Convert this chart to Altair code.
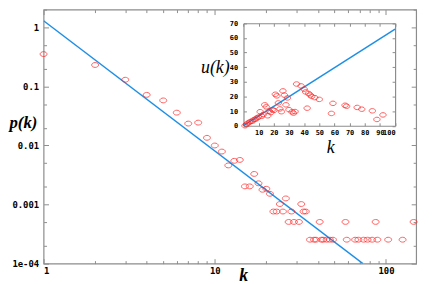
import altair as alt
import pandas as pd

# ---------------- data ----------------
main_k = [1, 2, 3, 4, 5, 6, 7, 8, 9, 10, 11, 12, 13, 14, 15, 16, 17, 18, 19, 20,
          21, 22, 23, 24, 25, 26, 27, 28, 29, 31, 32, 33, 34,
          36, 38, 39, 41, 42, 43, 45, 47, 49, 58, 59, 66, 69, 74, 78, 83, 87, 89, 103, 125, 145]
main_p = [0.353, 0.231, 0.130, 0.072, 0.058, 0.036, 0.0235, 0.0244, 0.0135, 0.0100,
          0.0079, 0.0046, 0.0055, 0.0057, 0.00203, 0.00203, 0.0033, 0.00229, 0.00178, 0.00185,
          0.00152, 0.000762, 0.000762, 0.00102, 0.000762, 0.00127, 0.000508, 0.000762, 0.000508,
          0.000508, 0.00102, 0.000762, 0.000762,
          0.000254, 0.000254, 0.000254, 0.000508, 0.000254, 0.000254, 0.000254, 0.000254, 0.000254,
          0.000508, 0.000254, 0.000254, 0.000254, 0.000254, 0.000254, 0.000254, 0.000508, 0.000254,
          0.000254, 0.000254, 0.000508]
fit_k = [1, 73.3]
fit_p = [1.295, 0.0001]

inset_k = [1, 2, 3, 4, 5, 6, 7, 8, 9, 10, 11, 12, 13, 14, 15, 16, 17, 18, 19, 20,
           21, 22, 23, 24, 25, 26, 27, 28, 29, 30, 32, 33, 34, 35, 38, 40, 41, 42, 43, 44,
           45, 47, 50, 58, 59, 67, 68, 75, 78, 85, 88, 92]
inset_u = [0, 1, 1.8, 2.5, 3, 3.2, 4.3, 4.5, 5.4, 6, 9.6, 6.5, 7.7, 14.3, 12.9, 6.8, 10, 9, 11, 10.5,
           21.5, 20.4, 15.6, 11.5, 9.6, 23.8, 20.9, 14.3, 19, 11, 9.5, 8.6, 9.7, 28.5, 27.2, 25, 23.1, 12, 22, 21,
           20, 19.2, 18, 8.4, 15.3, 14, 13.3, 12.5, 11.3, 10.2, 4.3, 7.4]
inset_fit_k = [0, 100]
inset_fit_u = [0, 66]

x_major = [1, 10, 100]
x_ticks = [1, 2, 3, 4, 5, 6, 7, 8, 9, 10, 20, 30, 40, 50, 60, 70, 80, 90, 100]
y_major = [0.0001, 0.001, 0.01, 0.1, 1]
y_ticks = [0.0001, 0.0002, 0.0005, 0.001, 0.002, 0.005, 0.01, 0.02, 0.05, 0.1, 0.2, 0.5, 1, 2]
inset_x_labels = [10, 20, 30, 40, 50, 60, 70, 80, 90, 100]
inset_x_ticks = [0, 10, 20, 30, 40, 50, 60, 70, 80, 90, 100]
inset_y_labels = [0, 10, 20, 30, 40, 50, 60, 70]

main_df = pd.DataFrame({"k": main_k, "p": main_p})
fit_df = pd.DataFrame({"k": fit_k, "p": fit_p})
inset_df = pd.DataFrame({"k": inset_k, "u": inset_u})
inset_fit_df = pd.DataFrame({"k": inset_fit_k, "u": inset_fit_u})

# ---------------- layout / style ----------------
W, H = 377, 257
GRAY = "#8c8c8c"
RED = "#ff1a1a"
BLUE = "#1e8fe6"
LABEL_FONT = "DejaVu Sans Mono"
TITLE_FONT = "Liberation Serif"
ELL = "M-1,0 A1,0.7 0 1,0 1,0 A1,0.7 0 1,0 -1,0 Z"

IX0, IX1 = 202.3, 355.7     # inset x range inside plot
IY0, IY1 = 117.5, 13.8      # inset y range inside plot

XS = alt.Scale(type="log", domain=[1, 150], nice=False)
YS = alt.Scale(type="log", domain=[0.0001, 2], nice=False)
IXS = alt.Scale(domain=[0, 100], range=[IX0, IX1], nice=False, zero=False)
IYS = alt.Scale(domain=[0, 70], range=[IY0, IY1], nice=False, zero=False)

x_tick_size = {"condition": {"test": "indexof([1,10,100], datum.value) >= 0", "value": 5}, "value": 3}
y_tick_size = {"condition": {"test": "indexof([0.0001,0.001,0.01,0.1,1], datum.value) >= 0", "value": 5}, "value": 3}


def tick_axis(orient, offset, values, size):
    return alt.Axis(orient=orient, offset=offset, values=values, labels=False, domain=False,
                    grid=False, ticks=True, tickColor=GRAY, tickWidth=1, tickSize=size, title="")


def tick_axis_dom(orient, offset, values, size):
    return alt.Axis(orient=orient, offset=offset, values=values, labels=False, domain=True,
                    domainColor=GRAY, domainWidth=1.2,
                    grid=False, ticks=True, tickColor=GRAY, tickWidth=1, tickSize=size, title="")


# main points with labelled axes
main_pts = alt.Chart(main_df).mark_point(shape=ELL, size=49, filled=False, color=RED, strokeWidth=1).encode(
    x=alt.X("k:Q", scale=XS, axis=alt.Axis(
        orient="bottom", values=x_major, ticks=False, domain=False, grid=False,
        labelPadding=3, labelFont=LABEL_FONT, labelFontSize=9, labelFontWeight="bold", labelColor="#000000",
        title="k", titleFont=TITLE_FONT, titleFontSize=18, titleFontStyle="italic", titleFontWeight="bold",
        titleX=202, titleY=17, titleBaseline="alphabetic", titleAlign="center", titleColor="#000000")),
    y=alt.Y("p:Q", scale=YS, axis=alt.Axis(
        orient="left", values=y_major, ticks=False, domain=False, grid=False,
        labelExpr="datum.value == 0.0001 ? '1e-04' : toString(datum.value)",
        labelPadding=5, labelFont=LABEL_FONT, labelFontSize=9, labelFontWeight="bold", labelColor="#000000",
        title="p(k)", titleFont=TITLE_FONT, titleFontSize=17, titleFontStyle="italic", titleFontWeight="bold",
        titleAngle=0, titleX=-35, titleY=114, titleAlign="left", titleBaseline="middle", titleColor="#000000")),
)

main_fit = alt.Chart(fit_df).mark_line(color=BLUE, strokeWidth=1.5, clip=True).encode(
    x=alt.X("k:Q", scale=XS, axis=None),
    y=alt.Y("p:Q", scale=YS, axis=None),
)

# inward ticks on bottom / left
ticks_a = alt.Chart(main_df).mark_point(opacity=0).encode(
    x=alt.X("k:Q", scale=XS, axis=tick_axis("top", -H, x_ticks, x_tick_size)),
    y=alt.Y("p:Q", scale=YS, axis=tick_axis("right", -W, y_ticks, y_tick_size)),
)
# inward ticks on top / right
ticks_b = alt.Chart(main_df).mark_point(opacity=0).encode(
    x=alt.X("k:Q", scale=XS, axis=tick_axis("bottom", -H, x_ticks, x_tick_size)),
    y=alt.Y("p:Q", scale=YS, axis=tick_axis("left", -W, y_ticks, y_tick_size)),
)

# inset
inset_pts = alt.Chart(inset_df).mark_point(shape=ELL, size=42, filled=False, color=RED, strokeWidth=1).encode(
    x=alt.X("k:Q", scale=IXS, axis=alt.Axis(
        orient="bottom", offset=IY0 - H, values=inset_x_labels, ticks=False, grid=False,
        domain=True, domainColor=GRAY, domainWidth=1.2, labelOverlap=False,
        labelPadding=3, labelFont=LABEL_FONT, labelFontSize=7, labelFontWeight="bold", labelColor="#000000",
        title="k", titleFont=TITLE_FONT, titleFontSize=18, titleFontStyle="italic", titleFontWeight="normal",
        titleX=290, titleY=27, titleBaseline="alphabetic", titleAlign="center", titleColor="#000000")),
    y=alt.Y("u:Q", scale=IYS, axis=alt.Axis(
        orient="left", offset=-IX0, values=inset_y_labels, ticks=False, grid=False,
        domain=True, domainColor=GRAY, domainWidth=1.2, labelOverlap=False,
        labelPadding=6, labelFont=LABEL_FONT, labelFontSize=7, labelFontWeight="bold", labelColor="#000000",
        title="u(k)", titleFont=TITLE_FONT, titleFontSize=18, titleFontStyle="italic", titleFontWeight="normal",
        titleAngle=0, titleX=-29, titleY=59, titleAlign="center", titleBaseline="middle", titleColor="#000000")),
)

inset_fit = alt.Chart(inset_fit_df).mark_line(color=BLUE, strokeWidth=1.5).encode(
    x=alt.X("k:Q", scale=IXS, axis=None),
    y=alt.Y("u:Q", scale=IYS, axis=None),
)

inset_ticks_a = alt.Chart(inset_df).mark_point(opacity=0).encode(
    x=alt.X("k:Q", scale=IXS, axis=tick_axis("top", -IY0, inset_x_ticks, 3)),
    y=alt.Y("u:Q", scale=IYS, axis=tick_axis("right", IX0 - W, inset_y_labels, 3)),
)
inset_ticks_b = alt.Chart(inset_df).mark_point(opacity=0).encode(
    x=alt.X("k:Q", scale=IXS, axis=tick_axis_dom("bottom", IY1 - H, inset_x_ticks, 3)),
    y=alt.Y("u:Q", scale=IYS, axis=tick_axis_dom("left", -IX1, inset_y_labels, 3)),
)

chart = alt.layer(
    ticks_a, ticks_b, inset_ticks_a, inset_ticks_b,
    main_fit, main_pts, inset_fit, inset_pts,
).resolve_scale(
    x="independent", y="independent"
).resolve_axis(
    x="independent", y="independent"
).properties(
    width=W, height=H,
    padding={"left": 36, "top": 0, "right": 12, "bottom": 19},
    autosize=alt.AutoSizeParams(type="none"),
    background="#ffffff",
).configure_view(
    stroke=GRAY, strokeWidth=1.2
)

chart.save("out.html", embed_options={"renderer": "svg", "actions": False})
